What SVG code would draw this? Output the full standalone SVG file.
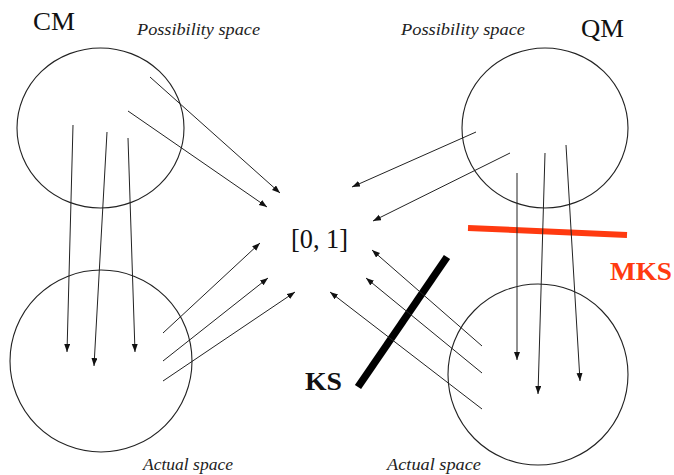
<svg xmlns="http://www.w3.org/2000/svg" width="674" height="475" viewBox="0 0 674 475">
<style>
.c{fill:none;stroke:#222;stroke-width:1.1}
.a{fill:none;stroke:#222;stroke-width:1;marker-end:url(#ah)}
.t{font-family:"Liberation Serif","Times New Roman",serif;fill:#111}
.i{font-family:"Liberation Serif","Times New Roman",serif;font-style:italic;fill:#222;font-size:17px}
</style>
<defs>
<marker id="ah" markerUnits="userSpaceOnUse" markerWidth="10" markerHeight="8" refX="8" refY="3" orient="auto">
<path d="M0,0 L8,3 L0,6 Z" fill="#111"/>
</marker>
</defs>
<rect width="674" height="475" fill="#fff"/>
<g id="cm-possibility">
<ellipse class="c" cx="100.5" cy="128" rx="83.5" ry="80"/>
<text class="t" x="33" y="30" font-size="26" textLength="42" lengthAdjust="spacingAndGlyphs">CM</text>
<text class="i" x="137" y="35" textLength="123" lengthAdjust="spacingAndGlyphs">Possibility space</text>
</g>
<g id="cm-actual">
<ellipse class="c" cx="101" cy="361" rx="91" ry="91"/>
<text class="i" x="143" y="470" textLength="90" lengthAdjust="spacingAndGlyphs">Actual space</text>
</g>
<g id="qm-possibility">
<ellipse class="c" cx="545" cy="128" rx="83" ry="80"/>
<text class="t" x="581" y="37" font-size="26" textLength="43" lengthAdjust="spacingAndGlyphs">QM</text>
<text class="i" x="401" y="35" textLength="124" lengthAdjust="spacingAndGlyphs">Possibility space</text>
</g>
<g id="qm-actual">
<ellipse class="c" cx="538" cy="374.5" rx="90" ry="90.5"/>
<text class="i" x="387" y="470" textLength="94" lengthAdjust="spacingAndGlyphs">Actual space</text>
</g>
<g id="interval">
<text class="t" x="291" y="248" font-size="27" textLength="57" lengthAdjust="spacingAndGlyphs">[0, 1]</text>
</g>
<g id="mks">
<line x1="468" y1="228" x2="627" y2="235" stroke="#ff3a10" stroke-width="6"/>
<text class="t" x="610" y="280" font-size="26" font-weight="bold" style="fill:#ff3a10" textLength="62" lengthAdjust="spacingAndGlyphs">MKS</text>
</g>
<g id="ks">
<line x1="447" y1="257" x2="358" y2="387" stroke="#000" stroke-width="7.5"/>
<text class="t" x="305" y="390" font-size="26" font-weight="bold" textLength="37" lengthAdjust="spacingAndGlyphs">KS</text>
</g>
<g id="connectors">
<line class="a" x1="150" y1="77" x2="280" y2="193"/>
<line class="a" x1="128" y1="111" x2="267" y2="207"/>
<line class="a" x1="73" y1="125" x2="67" y2="352"/>
<line class="a" x1="107" y1="132" x2="94" y2="366"/>
<line class="a" x1="128" y1="138" x2="135" y2="352"/>
<line class="a" x1="163" y1="333" x2="260" y2="243"/>
<line class="a" x1="163" y1="361" x2="268" y2="278"/>
<line class="a" x1="163" y1="381" x2="295" y2="292"/>
<line class="a" x1="476" y1="132" x2="352" y2="187"/>
<line class="a" x1="510" y1="153" x2="373" y2="221"/>
<line class="a" x1="517" y1="173" x2="517" y2="360"/>
<line class="a" x1="545" y1="153" x2="538" y2="394"/>
<line class="a" x1="566" y1="145" x2="580" y2="381"/>
<line class="a" x1="482" y1="346" x2="372" y2="250"/>
<line class="a" x1="482" y1="373" x2="366" y2="278"/>
<line class="a" x1="482" y1="409" x2="330" y2="292"/>
</g>
</svg>
